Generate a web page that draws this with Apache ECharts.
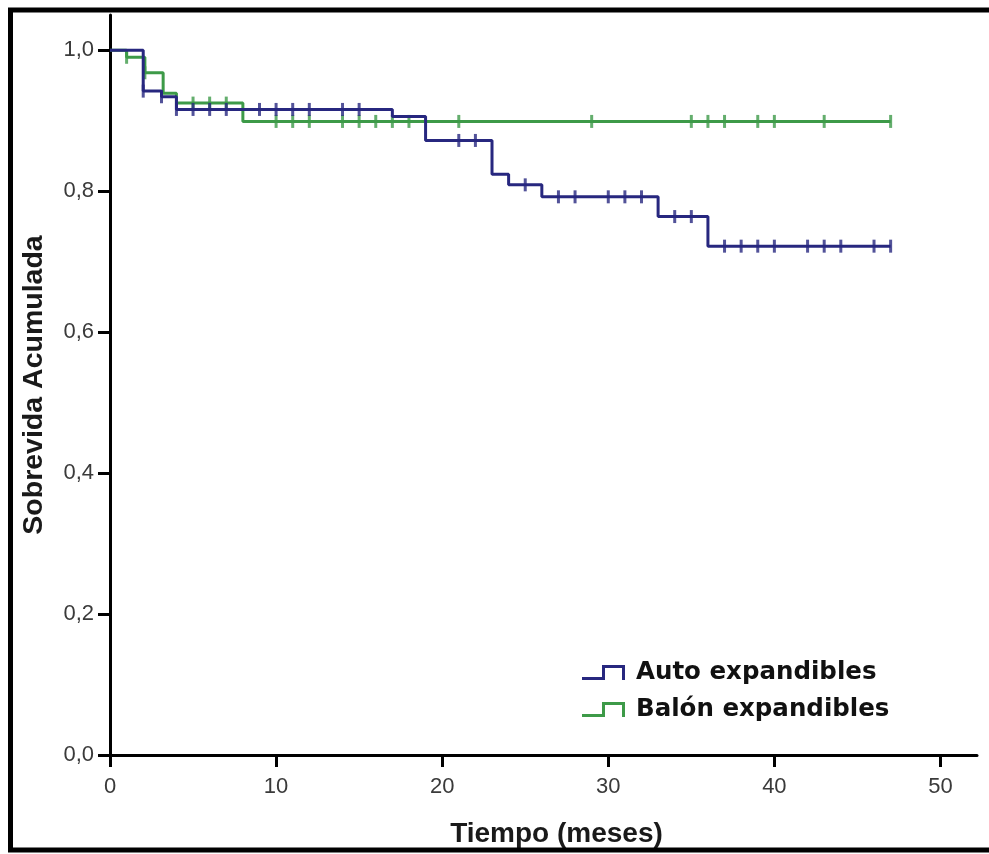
<!DOCTYPE html>
<html>
<head>
<meta charset="utf-8">
<script src="https://cdn.jsdelivr.net/npm/echarts@6/dist/echarts.min.js"></script>
<style>
html,body{margin:0;padding:0;background:#fff;}
#chart{width:989px;height:854px;}
</style>
</head>
<body>
<div id="chart"></div>
<script>
// ---- Data (Kaplan-Meier curves) ----
const autoTimes = [0, 2, 3.1, 4, 17, 19, 23, 24, 26, 33, 36, 47];
const autoSurv  = [1.0, 0.942, 0.934, 0.916, 0.906, 0.872, 0.824, 0.809, 0.792, 0.764, 0.722, 0.722];
const autoCensored = [2, 3.1, 4, 5, 6, 7, 9, 10, 11, 12, 14, 15, 21, 22, 25, 27, 28, 30, 31, 32, 34, 35, 37, 38, 39, 40, 42, 43, 44, 46, 47];

const balonTimes = [0, 1, 2.1, 3.2, 4, 8, 47];
const balonSurv  = [1.0, 0.990, 0.968, 0.939, 0.925, 0.899, 0.899];
const balonCensored = [1, 2.1, 5, 6, 7, 10, 11, 12, 14, 15, 16, 17, 18, 21, 29, 35, 36, 37, 39, 40, 43, 47];

const xTicks = [0, 10, 20, 30, 40, 50];
const yTicks = [0, 0.2, 0.4, 0.6, 0.8, 1.0];

const seriesNames = ['Auto expandibles', 'Balón expandibles'];
const AUTO_COLOR = '#27277f';
const BALON_COLOR = '#3d9a48';

function levelAt(times, surv, t) {
  let v = surv[0];
  for (let i = 0; i < times.length; i++) { if (times[i] <= t + 1e-9) v = surv[i]; }
  return v;
}
function steps(times, surv) { return times.map((t, i) => [t, surv[i]]); }
function censors(times, surv, cens) { return cens.map(t => [t, levelAt(times, surv, t)]); }

const stepIcon = 'path://M0,12 L20,12 L20,0 L43,0 L43,15 L40,15 L40,3 L23,3 L23,15 L0,15 Z';
const FONT = "'Liberation Sans', Arial, sans-serif";

const chart = echarts.init(document.getElementById('chart'));
chart.setOption({
  animation: false,
  backgroundColor: '#fff',
  grid: { left: 110, right: 12, top: 15, bottom: 99, containLabel: false },
  xAxis: {
    type: 'value', min: 0, max: 52.2,
    name: 'Tiempo (meses)', nameLocation: 'middle', nameGap: 65,
    nameTextStyle: { fontFamily: FONT, fontWeight: 'bold', fontSize: 28, color: '#1a1a1a', padding: [0, 0, 0, 26] },
    axisLine: { show: true, lineStyle: { color: '#000', width: 3 } },
    axisTick: { show: true, length: 12, lineStyle: { color: '#000', width: 3 }, customValues: xTicks },
    axisLabel: { fontFamily: FONT, fontSize: 22, color: '#3a3a3a', margin: 21, customValues: xTicks },
    splitLine: { show: false }
  },
  yAxis: {
    type: 'value', min: 0, max: 1.05,
    name: 'Sobrevida Acumulada', nameLocation: 'middle', nameGap: 61, nameRotate: 90,
    nameTextStyle: { fontFamily: FONT, fontWeight: 'bold', fontSize: 28.5, color: '#1a1a1a' },
    axisLine: { show: true, lineStyle: { color: '#000', width: 3 } },
    axisTick: { show: true, length: 12, lineStyle: { color: '#000', width: 3 }, customValues: yTicks },
    axisLabel: { fontFamily: FONT, fontSize: 22, color: '#3a3a3a', margin: 16, customValues: yTicks,
      formatter: v => v.toFixed(1).replace('.', ',') },
    splitLine: { show: false }
  },
  legend: {
    orient: 'vertical', left: 577, top: 655, itemWidth: 43, itemHeight: 15, itemGap: 12,
    textStyle: { fontFamily: "'DejaVu Sans', sans-serif", fontWeight: 'bold', fontSize: 24.5, color: '#111', padding: [0, 0, 0, 6] },
    data: [
      { name: seriesNames[0], icon: stepIcon },
      { name: seriesNames[1], icon: stepIcon }
    ]
  },
  series: [
    { name: seriesNames[1], type: 'line', step: 'end', data: steps(balonTimes, balonSurv), showSymbol: false, symbol: 'none',
      lineStyle: { color: BALON_COLOR, width: 3 }, itemStyle: { color: BALON_COLOR }, z: 2 },
    { name: seriesNames[1], type: 'scatter', data: censors(balonTimes, balonSurv, balonCensored),
      symbol: 'rect', symbolSize: [3, 13], itemStyle: { color: BALON_COLOR }, z: 3, silent: true },
    { name: seriesNames[0], type: 'line', step: 'end', data: steps(autoTimes, autoSurv), showSymbol: false, symbol: 'none',
      lineStyle: { color: AUTO_COLOR, width: 3 }, itemStyle: { color: AUTO_COLOR }, z: 4 },
    { name: seriesNames[0], type: 'scatter', data: censors(autoTimes, autoSurv, autoCensored),
      symbol: 'rect', symbolSize: [3, 13], itemStyle: { color: AUTO_COLOR }, z: 5, silent: true }
  ],
  graphic: [
    { type: 'rect', z: 100, silent: true,
      shape: { x: 10.5, y: 10, width: 1000, height: 840 },
      style: { fill: null, stroke: '#000', lineWidth: 5 } }
  ]
});
</script>
</body>
</html>
